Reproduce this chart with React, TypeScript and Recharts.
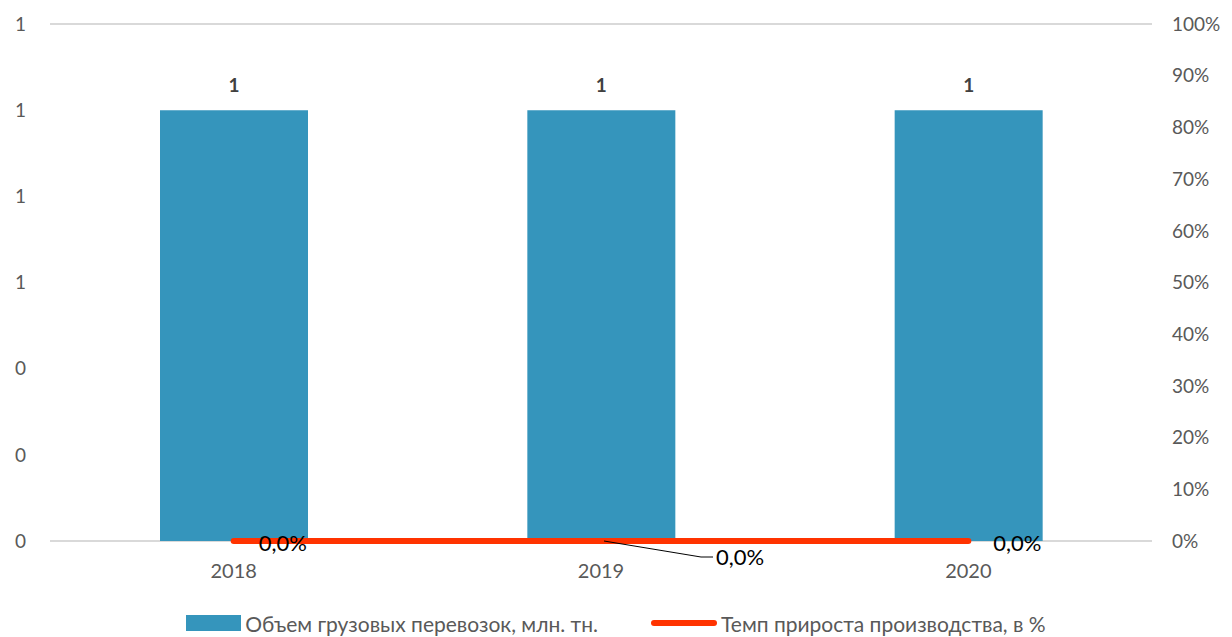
import { ComposedChart, Bar, Line, XAxis, YAxis, CartesianGrid, Legend, LabelList } from "recharts";

const years = ["2018", "2019", "2020"];
const cargoVolume = [1, 1, 1];
const growthRate = [0, 0, 0];
const leftTicks = [0, 0.2, 0.4, 0.6, 0.8, 1.0, 1.2];
const rightTicks = [0, 0.1, 0.2, 0.3, 0.4, 0.5, 0.6, 0.7, 0.8, 0.9, 1.0];

const barName = "Объем грузовых перевозок, млн. тн.";
const lineName = "Темп прироста производства, в %";

const FONT = "Lato, 'Open Sans', sans-serif";
const GREY = "#595959";

const data = years.map((y, i) => ({ year: y, volume: cargoVolume[i], growth: growthRate[i] }));

const pct = (v: number) => (v * 100).toFixed(1).replace(".", ",") + "%";

function GrowthLabel(props: any) {
  const { x, y, index, value } = props;
  const text = pct(value);
  if (index === 1) {
    return (
      <g>
        <polyline points={`${x + 3},${y} ${x + 100},${y + 16} ${x + 112},${y + 16}`} fill="none" stroke="#000" strokeWidth={1} />
        <text x={x + 115} y={y + 16} dy="0.35em" fontSize={22} fontFamily={FONT} fill="#000">{text}</text>
      </g>
    );
  }
  return (
    <text x={x + 25} y={y + 2} dy="0.35em" fontSize={22} fontFamily={FONT} fill="#000">{text}</text>
  );
}

function LegendContent() {
  return (
    <div style={{ display: "flex", justifyContent: "center", alignItems: "center", height: 20, fontFamily: FONT, fontSize: 21, color: GREY }}>
      <div style={{ display: "flex", alignItems: "center", marginRight: 53 }}>
        <span style={{ display: "inline-block", width: 55, height: 16, background: "#3595BC", marginRight: 4 }} />
        <span>{barName}</span>
      </div>
      <div style={{ display: "flex", alignItems: "center" }}>
        <span style={{ display: "inline-block", width: 66, height: 6, borderRadius: 3, background: "#FF3300", marginRight: 4 }} />
        <span>{lineName}</span>
      </div>
    </div>
  );
}

export default function App() {
  return (
    <div style={{ position: "absolute", left: 0, top: 0, width: 1232, height: 637, background: "#fff" }}>
      <ComposedChart width={1232} height={637} data={data} margin={{ top: 24, right: 0, bottom: 0, left: 0 }}>
        <CartesianGrid vertical={false} stroke="#D9D9D9" strokeWidth={2} />
        <XAxis
          dataKey="year"
          axisLine={false}
          tickLine={false}
          tickSize={0}
          tickMargin={23}
          height={72}
          tick={{ fill: GREY, fontSize: 20, fontFamily: FONT }}
        />
        <YAxis
          yAxisId="left"
          domain={[0, 1.2]}
          ticks={leftTicks}
          tickFormatter={(v: number) => String(Math.round(v))}
          axisLine={false}
          tickLine={false}
          tickSize={0}
          tickMargin={24}
          width={50}
          tick={{ fill: GREY, fontSize: 19, fontFamily: FONT }}
        />
        <YAxis
          yAxisId="right"
          orientation="right"
          domain={[0, 1]}
          ticks={rightTicks}
          tickFormatter={(v: number) => Math.round(v * 100) + "%"}
          axisLine={false}
          tickLine={false}
          tickSize={0}
          tickMargin={20}
          width={80}
          tick={{ fill: GREY, fontSize: 19, fontFamily: FONT, textAnchor: "start" }}
        />
        <Bar yAxisId="left" dataKey="volume" name={barName} fill="#3595BC" barSize={148} isAnimationActive={false}>
          <LabelList dataKey="volume" position="top" offset={18} style={{ fill: "#404040", fontSize: 19, fontWeight: 700, fontFamily: FONT }} />
        </Bar>
        <Line
          yAxisId="right"
          dataKey="growth"
          name={lineName}
          stroke="#FF3300"
          strokeWidth={6}
          strokeLinecap="round"
          dot={false}
          activeDot={false}
          isAnimationActive={false}
        >
          <LabelList dataKey="growth" content={GrowthLabel} />
        </Line>
        <Legend verticalAlign="bottom" height={24} content={LegendContent} />
      </ComposedChart>
    </div>
  );
}
